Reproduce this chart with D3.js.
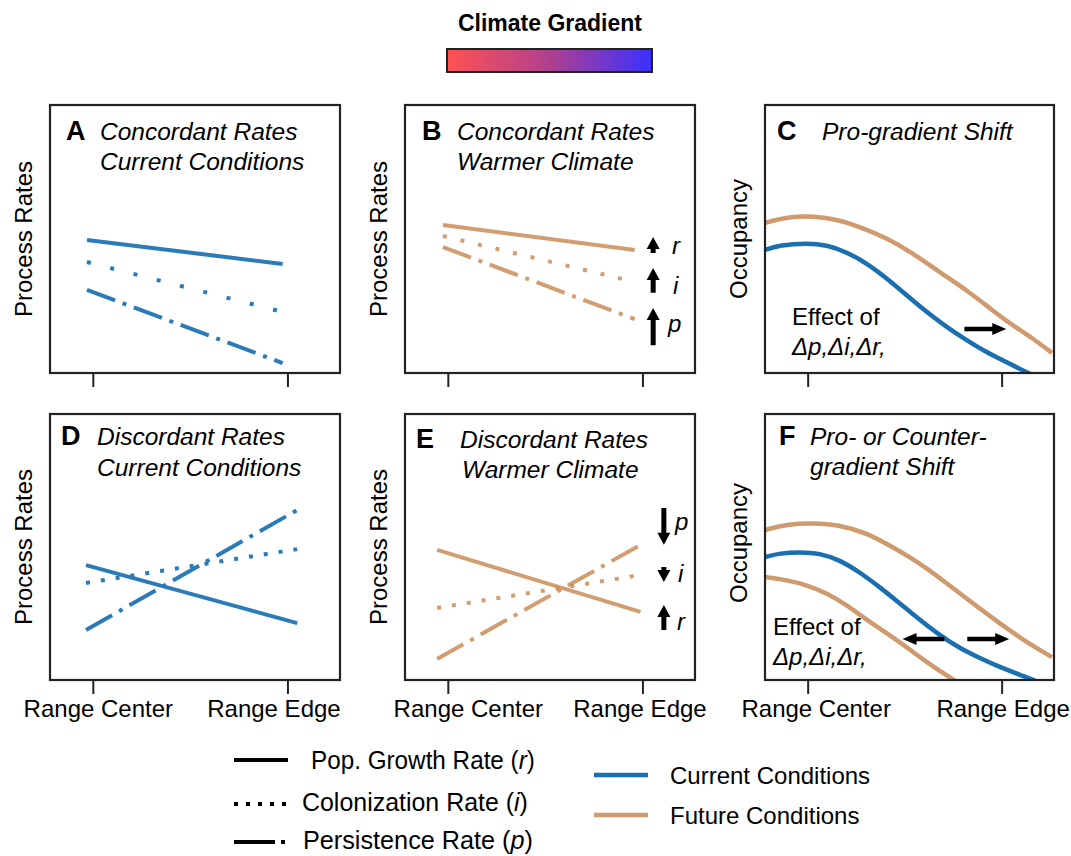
<!DOCTYPE html>
<html>
<head>
<meta charset="utf-8">
<script src="https://cdn.jsdelivr.net/npm/d3@7"></script>
<style>
  body { margin: 0; background: #fff; }
  svg { display: block; }
  text { font-family: "Liberation Sans", Arial, Helvetica, sans-serif; fill: #000; }
</style>
</head>
<body>
<svg id="fig" width="1071" height="856"></svg>
<script>
// ---------------- data ----------------
const rateKeys = ["r", "i", "p"];
const rateNames = ["Pop. Growth Rate", "Colonization Rate", "Persistence Rate"];
const conditionNames = ["Current Conditions", "Future Conditions"];
const xTickLabels = ["Range Center", "Range Edge"];

// process-rate lines: [value at start, value at end] of each line
const ratesA = { r: [0.496, 0.407], i: [0.414, 0.228], p: [0.310, 0.037] };
const spanA  = [-0.03, 0.975];
const ratesB = { r: [0.552, 0.459], i: [0.511, 0.340], p: [0.470, 0.201] };
const spanB  = [-0.025, 0.96];
const ratesD = { r: [0.432, 0.214], i: [0.365, 0.492], p: [0.188, 0.639] };
const spanD  = [-0.035, 1.05];
const ratesE = { r: [0.489, 0.256], i: [0.271, 0.395], p: [0.079, 0.508] };
const spanE  = [-0.055, 0.99];

// change of each rate at the range edge under a warmer climate: [from, to]
const shiftsB = { r: [0.448, 0.507], i: [0.299, 0.392], p: [0.104, 0.243] };
const shiftsE = { p: [0.647, 0.508], i: [0.425, 0.368], r: [0.188, 0.282] };

// occupancy along the gradient: [position, occupancy]
const occCurrentC = [[-0.22,0.459],[-0.143,0.478],[-0.004,0.485],[0.099,0.478],[0.201,0.451],
  [0.304,0.410],[0.407,0.354],[0.509,0.291],[0.612,0.228],[0.715,0.172],[0.818,0.123],
  [0.920,0.078],[1.024,0.041],[1.126,0.004],[1.229,-0.034]];
const occFutureC = [[-0.22,0.560],[-0.107,0.582],[0.027,0.586],[0.165,0.571],[0.268,0.545],
  [0.407,0.504],[0.540,0.448],[0.679,0.377],[0.818,0.310],[0.951,0.235],[1.054,0.179],
  [1.157,0.131],[1.260,0.075]];
const occCurrentF = [[-0.22,0.462],[-0.143,0.477],[-0.040,0.481],[0.062,0.477],[0.165,0.451],
  [0.267,0.406],[0.370,0.350],[0.474,0.289],[0.577,0.226],[0.679,0.169],[0.782,0.120],
  [0.885,0.083],[0.988,0.049],[1.126,0.011],[1.229,-0.019]];
const occFutureUpF = [[-0.22,0.564],[-0.107,0.586],[0.027,0.590],[0.165,0.583],[0.304,0.553],
  [0.437,0.500],[0.577,0.440],[0.715,0.365],[0.849,0.289],[0.988,0.214],[1.126,0.143],
  [1.260,0.086]];
const occFutureDownF = [[-0.22,0.387],[-0.107,0.376],[-0.004,0.357],[0.099,0.327],[0.201,0.282],
  [0.304,0.226],[0.407,0.177],[0.509,0.124],[0.612,0.068],[0.690,0.030],[0.770,-0.008]];

// horizontal range-shift arrows: [from x, to x] at a given occupancy level
const rangeShiftC = [[0.808, 1.024]];
const rangeShiftLevelC = 0.164;
const rangeShiftF = [[0.705, 0.489], [0.823, 1.039]];
const rangeShiftLevelF = 0.154;

// ---------------- styles ----------------
const BLUE_LINE = "#2b7bb9";
const TAN_LINE = "#c98c58";
const BLUE_CURVE = "#1a6fb0";
const TAN_CURVE = "#cf9a6e";
const FRAME = "#222";

// dotted gap and dash-dot pattern differ slightly between panels
function dashFor(k, dotGap) {
  if (k === "i") return `4,${dotGap}`;
  if (k === "p") return "30,8,4,8";
  return null;
}

const svg = d3.select("#fig");
const X_DOMAIN = [-0.22, 1.27];

function makePanel(cfg) {
  const g = svg.append("g").attr("transform", `translate(${cfg.left},${cfg.top})`);
  const x = d3.scaleLinear().domain(X_DOMAIN).range([0, cfg.w]);
  const y = d3.scaleLinear().domain([0, 1]).range([cfg.h, 0]);
  const clipId = "clip" + cfg.id;
  g.append("clipPath").attr("id", clipId)
    .append("rect").attr("x", 0).attr("y", 0).attr("width", cfg.w).attr("height", cfg.h);
  const plot = g.append("g").attr("clip-path", `url(#${clipId})`);

  // x axis ticks
  const axis = d3.axisBottom(x).tickValues([0, 1]).tickSize(14)
    .tickFormat((d, i) => cfg.tickText ? xTickLabels[i] : "");
  const ax = g.append("g").attr("transform", `translate(0,${cfg.h})`).call(axis);
  ax.select(".domain").remove();
  ax.selectAll(".tick line").attr("stroke", FRAME).attr("stroke-width", 2);
  ax.selectAll(".tick text")
    .attr("font-size", 24).attr("fill", "#000")
    .attr("y", 37).attr("dy", 0)
    .attr("font-family", "Liberation Sans, Arial, sans-serif")
    .attr("dx", (d, i) => cfg.tickDx ? cfg.tickDx[i] : 0);

  // frame
  g.append("rect").attr("x", 0).attr("y", 0).attr("width", cfg.w).attr("height", cfg.h)
    .attr("fill", "none").attr("stroke", FRAME).attr("stroke-width", 2.2);

  // y label
  g.append("text")
    .attr("transform", `translate(${-18},${cfg.h / 2 + (cfg.ylabelDy || 0)}) rotate(-90)`)
    .attr("text-anchor", "middle").attr("font-size", 24)
    .text(cfg.ylabel);

  // panel letter and title
  g.append("text").attr("x", cfg.letterPos[0]).attr("y", cfg.letterPos[1])
    .attr("font-size", 27).attr("font-weight", "bold").text(cfg.id);
  cfg.title.forEach((t, i) => {
    g.append("text").attr("x", cfg.titlePos[i][0]).attr("y", cfg.titlePos[i][1])
      .attr("font-size", 24.5).attr("font-style", "italic").text(t);
  });
  return { g, plot, x, y };
}

function drawRates(p, rates, span, color, opacity, dotGap) {
  const line = d3.line().x(d => p.x(d[0])).y(d => p.y(d[1]));
  rateKeys.forEach(k => {
    const pts = [[span[0], rates[k][0]], [span[1], rates[k][1]]];
    p.plot.append("path").attr("d", line(pts))
      .attr("fill", "none").attr("stroke", color).attr("stroke-width", 4)
      .attr("stroke-opacity", opacity)
      .attr("stroke-dasharray", dashFor(k, dotGap)).attr("stroke-linecap", "butt");
  });
}

// vertical arrow with filled head, pointing from y0 to y1 (pixels)
function vArrow(g, cx, y0, y1, shaftW, headW, headL) {
  const d = Math.sign(y1 - y0);
  const len = Math.abs(y1 - y0);
  const yb = y1 - d * Math.min(headL, len);
  let pts;
  if (len <= headL) {
    const hw = headW * 0.75;
    pts = [[cx - hw / 2, y0], [cx + hw / 2, y0], [cx, y1]];
  } else {
    pts = [[cx - shaftW / 2, y0], [cx + shaftW / 2, y0], [cx + shaftW / 2, yb], [cx + headW / 2, yb],
           [cx, y1], [cx - headW / 2, yb], [cx - shaftW / 2, yb]];
  }
  g.append("polygon").attr("points", pts.map(q => q.join(",")).join(" ")).attr("fill", "#000");
}

function hArrow(g, x0, x1, cy, shaftW, headW, headL) {
  const d = Math.sign(x1 - x0);
  const xb = x1 - d * headL;
  const pts = [[x0, cy - shaftW / 2], [xb, cy - shaftW / 2], [xb, cy - headW / 2], [x1, cy],
               [xb, cy + headW / 2], [xb, cy + shaftW / 2], [x0, cy + shaftW / 2]];
  g.append("polygon").attr("points", pts.map(q => q.join(",")).join(" ")).attr("fill", "#000");
}

function drawShifts(p, shifts, xPos, labelPos) {
  Object.keys(shifts).forEach(k => {
    const [a, b] = shifts[k];
    vArrow(p.g, p.x(xPos), p.y(a), p.y(b), 5, 13, 12);
    p.g.append("text").attr("x", labelPos[k][0]).attr("y", labelPos[k][1])
      .attr("font-size", 24).attr("font-style", "italic").text(k);
  });
}

function drawCurve(p, pts, color) {
  const line = d3.line().x(d => p.x(d[0])).y(d => p.y(d[1])).curve(d3.curveBasis);
  p.plot.append("path").attr("d", line(pts)).attr("fill", "none")
    .attr("stroke", color).attr("stroke-width", 4.5);
}

function effectText(g, x, y1, y2) {
  g.append("text").attr("x", x).attr("y", y1).attr("font-size", 24).text("Effect of");
  g.append("text").attr("x", x).attr("y", y2).attr("font-size", 24).attr("font-style", "italic")
    .text("\u0394p,\u0394i,\u0394r,");
}

// ---------------- panels ----------------
const TOP1 = 105, H1 = 268, TOP2 = 414, H2 = 266, W = 290;

const pA = makePanel({ id: "A", left: 50, top: TOP1, w: W, h: H1, ylabel: "Process Rates",
  letterPos: [16, 35], title: ["Concordant Rates", "Current Conditions"],
  titlePos: [[50, 35], [50, 65]] });
drawRates(pA, ratesA, spanA, BLUE_LINE, 1, 20);

const pB = makePanel({ id: "B", left: 405, top: TOP1, w: W, h: H1, ylabel: "Process Rates",
  letterPos: [17, 35], title: ["Concordant Rates", "Warmer Climate"],
  titlePos: [[52, 35], [52, 65]] });
drawRates(pB, ratesB, spanB, TAN_LINE, 0.85, 14);
drawShifts(pB, shiftsB, 1.055, { r: [267, 149], i: [268, 189], p: [263, 227] });

const pC = makePanel({ id: "C", left: 765, top: TOP1, w: 289, h: H1, ylabel: "Occupancy",
  letterPos: [12, 35], title: ["Pro-gradient Shift"], titlePos: [[57, 35]] });
drawCurve(pC, occFutureC, TAN_CURVE);
drawCurve(pC, occCurrentC, BLUE_CURVE);
rangeShiftC.forEach(s => hArrow(pC.g, pC.x(s[0]), pC.x(s[1]), pC.y(rangeShiftLevelC), 4.5, 12, 14));
effectText(pC.g, 27, 220, 250);

const pD = makePanel({ id: "D", left: 50, top: TOP2, w: W, h: H2, ylabel: "Process Rates",
  letterPos: [11, 31], title: ["Discordant Rates", "Current Conditions"],
  titlePos: [[47, 31], [47, 62]], tickText: true, tickDx: [5, -14] });
drawRates(pD, ratesD, spanD, BLUE_LINE, 1, 11);

const pE = makePanel({ id: "E", left: 405, top: TOP2, w: W, h: H2, ylabel: "Process Rates",
  letterPos: [11, 34], title: ["Discordant Rates", "Warmer Climate"],
  titlePos: [[55, 34], [57, 64]], tickText: true, tickDx: [20, -3] });
drawRates(pE, ratesE, spanE, TAN_LINE, 0.85, 11);
drawShifts(pE, shiftsE, 1.11, { p: [270, 116], i: [273, 168], r: [272, 216] });

const pF = makePanel({ id: "F", left: 765, top: TOP2, w: 289, h: H2, ylabel: "Occupancy",
  letterPos: [14, 31], title: ["Pro- or Counter-", "gradient Shift"],
  titlePos: [[45, 31], [45, 61]], tickText: true, tickDx: [8, 1], ylabelDy: -4 });
drawCurve(pF, occFutureUpF, TAN_CURVE);
drawCurve(pF, occFutureDownF, TAN_CURVE);
drawCurve(pF, occCurrentF, BLUE_CURVE);
rangeShiftF.forEach(s => hArrow(pF.g, pF.x(s[0]), pF.x(s[1]), pF.y(rangeShiftLevelF), 4.5, 12, 14));
effectText(pF.g, 8, 221, 251);

// ---------------- climate gradient bar ----------------
const defs = svg.append("defs");
const grad = defs.append("linearGradient").attr("id", "climateGrad")
  .attr("x1", "0%").attr("x2", "100%").attr("y1", "0%").attr("y2", "0%");
[["0%", "#ff5252"], ["50%", "#b0408f"], ["100%", "#3a30ff"]].forEach(s =>
  grad.append("stop").attr("offset", s[0]).attr("stop-color", s[1]));
svg.append("text").attr("x", 550).attr("y", 31).attr("text-anchor", "middle")
  .attr("font-size", 23).attr("font-weight", "bold").text("Climate Gradient");
svg.append("rect").attr("x", 447).attr("y", 49).attr("width", 205).attr("height", 23)
  .attr("fill", "url(#climateGrad)").attr("stroke", "#222").attr("stroke-width", 2);

// ---------------- legends ----------------
const legL = svg.append("g");
const legRows = [
  { y: 760, textX: 311, base: 769, width: 224 },
  { y: 804, textX: 302, base: 811, width: 226 },
  { y: 842, textX: 303, base: 849, width: 230 }
];
const legendDash = { r: null, i: "4,8", p: "41,6,4,6" };
rateKeys.forEach((k, i) => {
  const row = legRows[i];
  legL.append("line").attr("x1", 234).attr("x2", 288).attr("y1", row.y).attr("y2", row.y)
    .attr("stroke", "#000").attr("stroke-width", 4).attr("stroke-dasharray", legendDash[k]);
  const t = legL.append("text")
    .attr("transform", `translate(${row.textX},${row.base})`)
    .attr("font-size", 26);
  t.append("tspan").text(rateNames[i] + " (");
  t.append("tspan").attr("font-style", "italic").text(k);
  t.append("tspan").text(")");
  // narrow the label horizontally to its column width
  const natural = t.node().getComputedTextLength();
  const sx = natural > 0 ? row.width / natural : 1;
  t.attr("transform", `translate(${row.textX},${row.base}) scale(${sx},1)`);
});

const legR = svg.append("g");
[[775, BLUE_CURVE], [815, TAN_CURVE]].forEach((row, i) => {
  legR.append("line").attr("x1", 594).attr("x2", 648).attr("y1", row[0]).attr("y2", row[0])
    .attr("stroke", row[1]).attr("stroke-width", 4.5);
  legR.append("text").attr("x", 670).attr("y", row[0] + 8.5).attr("font-size", 24)
    .text(conditionNames[i]);
});
</script>
</body>
</html>
